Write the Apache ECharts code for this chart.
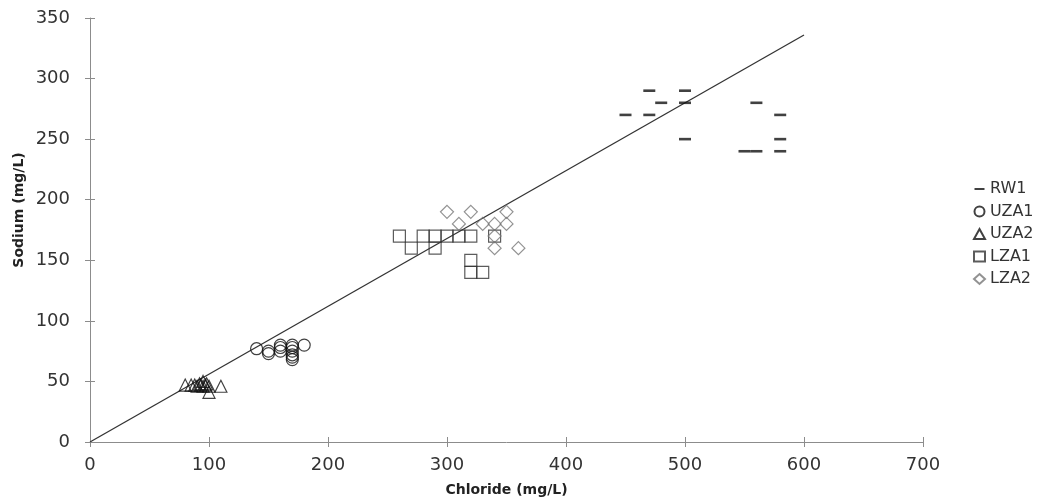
<!DOCTYPE html>
<html>
<head>
<meta charset="utf-8">
<title>Sodium vs Chloride</title>
<script src="https://cdn.jsdelivr.net/npm/echarts@6/dist/echarts.min.js"></script>
<style>
  html, body { margin: 0; padding: 0; background: #fff; }
  #chart { width: 1044px; height: 502px; }
</style>
</head>
<body>
<div id="chart"></div>
<script>
// chloride (x) / sodium (y) pairs, mg/L
const rw1 = [[450, 270], [470, 290], [470, 270], [480, 280], [500, 290], [500, 280], [500, 250],
  [550, 240], [560, 240], [560, 280], [580, 270], [580, 250], [580, 240]]
const uza1 = [[140, 77], [150, 73], [150, 75], [160, 80], [160, 78], [160, 75], [170, 80],
  [170, 78], [170, 75], [170, 72], [170, 70], [170, 68], [180, 80]]
const uza2 = [[80, 47], [85, 47], [88, 47], [90, 46], [92, 48], [93, 47], [95, 50], [95, 46],
  [97, 47], [98, 48], [100, 46], [100, 41], [110, 46]]
const lza1 = [[260, 170], [270, 160], [280, 170], [290, 170], [290, 160], [300, 170], [310, 170],
  [320, 170], [320, 150], [320, 140], [330, 140], [340, 170]]
const lza2 = [[300, 190], [320, 190], [350, 190], [310, 180], [330, 180], [340, 180], [350, 180],
  [340, 170], [340, 160], [360, 160]]
const trendX = [0, 600]
const trendY = [0, 336]

const xTicks = { min: 0, max: 700, interval: 100 }
const yTicks = { min: 0, max: 350, interval: 50 }

const font = '"DejaVu Sans", sans-serif'
const axisGray = '#8c8c8c'
const dashIcon = 'path://M0,0L0,0M0,4H10V6H0ZM10,10L10,10'

const chart = echarts.init(document.getElementById('chart'))

function mainAxis(name, ticks, isX) {
  return {
    type: 'value',
    ...ticks,
    name,
    nameLocation: 'middle',
    nameGap: 41,
    nameTextStyle: { fontFamily: font, fontSize: 14, fontWeight: 'bold', color: '#222' },
    axisLine: { show: true, lineStyle: { color: axisGray, width: 1 } },
    axisTick: { show: true, length: 5, lineStyle: { color: axisGray } },
    axisLabel: { fontFamily: font, fontSize: 18, color: '#333', margin: isX ? 14 : 20 },
    splitLine: { show: false },
  }
}

// twin axis only used to draw the inner half of the crossing ticks
function innerTicks(ticks, position) {
  return {
    type: 'value',
    ...ticks,
    position,
    axisLine: { show: false },
    axisTick: { show: true, inside: true, length: 5, lineStyle: { color: axisGray } },
    axisLabel: { show: false },
    splitLine: { show: false },
  }
}

function markerSeries(name, data, symbol, size, border) {
  return {
    name,
    type: 'scatter',
    data,
    symbol,
    symbolSize: size,
    itemStyle: { color: 'rgba(255,255,255,0)', borderColor: border, borderWidth: 1.2 },
    emphasis: { disabled: true },
  }
}

chart.setOption({
  animation: false,
  textStyle: { fontFamily: font },
  grid: { left: 90, right: 121, top: 18, bottom: 59 },
  legend: {
    orient: 'vertical',
    left: 973,
    top: 180,
    padding: 0,
    itemWidth: 11,
    itemHeight: 10,
    itemGap: 4.5,
    textStyle: { fontFamily: font, fontSize: 16, lineHeight: 18, color: '#333' },
    data: [
      { name: 'RW1', icon: dashIcon, itemStyle: { color: '#111', borderWidth: 0 } },
      { name: 'UZA1', icon: 'circle' },
      { name: 'UZA2', icon: 'triangle' },
      { name: 'LZA1', icon: 'rect' },
      { name: 'LZA2', icon: 'diamond' },
    ],
  },
  graphic: [{
    type: 'text',
    x: 19,
    y: 210,
    rotation: Math.PI / 2,
    style: {
      text: 'Sodium (mg/L)',
      font: 'bold 14px "DejaVu Sans", sans-serif',
      fill: '#222',
      align: 'center',
      verticalAlign: 'middle',
    },
  }],
  xAxis: [mainAxis('Chloride (mg/L)', xTicks, true), innerTicks(xTicks, 'bottom')],
  yAxis: [mainAxis('', yTicks, false), innerTicks(yTicks, 'left')],
  series: [
    {
      name: 'RW1',
      type: 'scatter',
      data: rw1,
      symbol: 'rect',
      symbolSize: [12, 2.6],
      itemStyle: { color: '#111' },
      emphasis: { disabled: true },
    },
    markerSeries('UZA1', uza1, 'circle', 12, '#111'),
    markerSeries('UZA2', uza2, 'triangle', 12, '#111'),
    markerSeries('LZA1', lza1, 'rect', 12, '#333'),
    markerSeries('LZA2', lza2, 'diamond', 13, '#777'),
    {
      name: 'trend',
      type: 'line',
      data: trendX.map((x, i) => [x, trendY[i]]),
      showSymbol: false,
      silent: true,
      lineStyle: { color: '#333', width: 1.3 },
      z: 1,
    },
  ],
})
</script>
</body>
</html>
